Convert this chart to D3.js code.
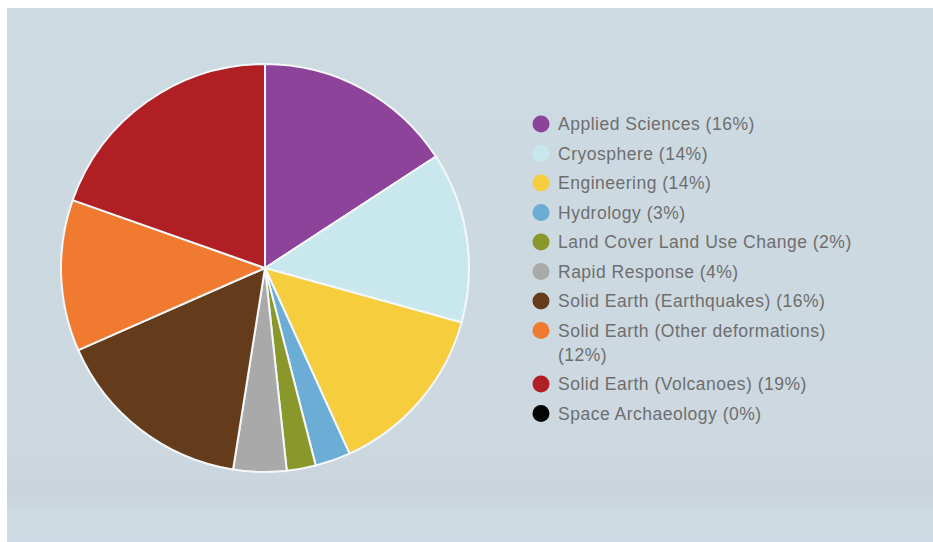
<!DOCTYPE html>
<html>
<head>
<meta charset="utf-8">
<script src="https://cdn.jsdelivr.net/npm/d3@7"></script>
<style>
  body { margin: 0; background: #fff; }
  svg { display: block; }
</style>
</head>
<body>
<svg id="chart"></svg>
<script>
// slice sizes (percent of total)
const categories = [
  'Applied Sciences', 'Cryosphere', 'Engineering', 'Hydrology',
  'Land Cover Land Use Change', 'Rapid Response', 'Solid Earth (Earthquakes)',
  'Solid Earth (Other deformations)', 'Solid Earth (Volcanoes)', 'Space Archaeology'
];
const values = [15.8, 13.5, 13.9, 2.8, 2.3, 4.2, 15.9, 12.0, 19.6, 0];
const pctLabels = ['16%', '14%', '14%', '3%', '2%', '4%', '16%', '12%', '19%', '0%'];
const colors = ['#8d4399', '#c8e8ee', '#f6cd3c', '#6badd5', '#8a972b',
  '#a9a9a9', '#643b1b', '#f07b30', '#b01f24', '#050505'];

const W = 933, H = 542;
const svg = d3.select('#chart').attr('width', W).attr('height', H);

// panel background, slightly greyer band near the bottom
const defs = svg.append('defs');
const grad = defs.append('linearGradient').attr('id', 'bg')
  .attr('x1', 0).attr('y1', 0).attr('x2', 0).attr('y2', 1);
grad.append('stop').attr('offset', '0%').attr('stop-color', '#ccdae2');
grad.append('stop').attr('offset', '80%').attr('stop-color', '#cdd8e0');
grad.append('stop').attr('offset', '91%').attr('stop-color', '#cad4dd');
grad.append('stop').attr('offset', '95%').attr('stop-color', '#cddbe3');
grad.append('stop').attr('offset', '100%').attr('stop-color', '#cddce4');
svg.append('rect').attr('x', 7).attr('y', 8).attr('width', W - 7).attr('height', H - 8)
  .attr('fill', 'url(#bg)');

// pie
const cx = 265, cy = 268, r = 204;
const pie = d3.pie().sort(null).value(d => d)(values);
const arc = d3.arc().innerRadius(0).outerRadius(r);

svg.append('g')
  .attr('transform', `translate(${cx},${cy})`)
  .selectAll('path')
  .data(pie)
  .join('path')
  .attr('d', arc)
  .attr('fill', (d, i) => colors[i])
  .attr('stroke', '#f4f7f9')
  .attr('stroke-width', 2)
  .attr('stroke-linejoin', 'round');

// legend
const lx = 541, ly = 124, rowGap = 29.5, lineGap = 24, wrapW = 300;
const legend = svg.append('g').attr('font-family', 'Helvetica, Arial, "Liberation Sans", sans-serif')
  .attr('font-size', 17.5).attr('letter-spacing', 0.5).attr('fill', '#6e6e6e');

let y = ly;
categories.forEach((c, i) => {
  legend.append('circle').attr('cx', lx).attr('cy', y).attr('r', 8.5).attr('fill', colors[i]);
  const t = legend.append('text').attr('x', lx + 17).attr('y', y).attr('dy', '0.35em');
  const words = `${c} (${pctLabels[i]})`.split(' ');
  let line = [], lines = 0;
  let tspan = t.append('tspan').attr('x', lx + 17);
  words.forEach(w => {
    line.push(w);
    tspan.text(line.join(' '));
    if (tspan.node().getComputedTextLength() > wrapW && line.length > 1) {
      line.pop();
      tspan.text(line.join(' '));
      line = [w];
      lines++;
      tspan = t.append('tspan').attr('x', lx + 17).attr('dy', lineGap).text(w);
    }
  });
  y += rowGap + lines * lineGap;
});
</script>
</body>
</html>
